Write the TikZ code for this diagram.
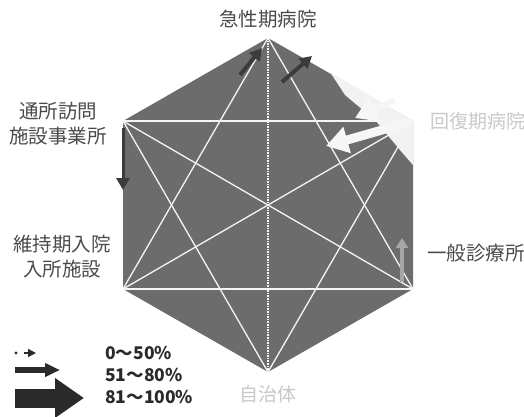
\documentclass[tikz,border=0pt]{standalone}
\usepackage{fontspec}
\setmainfont{Noto Sans CJK JP}
\usetikzlibrary{arrows.meta}
\definecolor{hexgray}{HTML}{6C6C6C}
\definecolor{labelgray}{HTML}{4A4A4A}
\definecolor{fadegray}{HTML}{C8C8C8}
\definecolor{arrowdark}{HTML}{2A2A2A}
\begin{document}
\begin{tikzpicture}[x=1pt,y=-1pt,
  hexfill/.style={fill=hexgray},
  diag/.style={draw=white!92!gray,line width=1.3pt},
  vdiag/.style={draw=white!92!gray,line width=1.6pt,densely dotted},
  lbl/.style={text=labelgray,font=\fontsize{19.5}{25}\selectfont,align=center,inner sep=0pt},
  fadelbl/.style={text=fadegray,font=\fontsize{19}{25}\selectfont,align=center,inner sep=0pt},
  legtext/.style={text=arrowdark,font=\fontsize{17.5}{20}\selectfont\bfseries,anchor=west,inner sep=0pt},
  darkarrow/.style={draw=hexgray!55!black,line width=4pt,-{Triangle[length=12pt,width=13pt]}},
  whitearrow/.style={draw=white!93!gray,line width=9pt,-{Triangle[length=22pt,width=26pt]}},
  lightarrow/.style={draw=gray!70,line width=4pt,-{Triangle[length=10pt,width=12pt]}}
]
\useasboundingbox (0,0) rectangle (524,416);
% hexagon vertices
\coordinate (T) at (268,38);
\coordinate (UR) at (413,121);
\coordinate (LR) at (413,289);
\coordinate (B) at (268,372);
\coordinate (LL) at (123,289);
\coordinate (UL) at (123,121);
\fill[hexfill] (T)--(UR)--(LR)--(B)--(LL)--(UL)--cycle;
% light overlay near upper right edge
\fill[white!90!gray] (330,72) -- (413,121) -- (413,165) -- (400,150) -- (375,120) -- (345,95) -- cycle;
% diagonals
\draw[diag] (UL) -- (UR);
\draw[diag] (LL) -- (LR);
\draw[diag] (T) -- (LL);
\draw[diag] (T) -- (LR);
\draw[diag] (B) -- (UL);
\draw[diag] (B) -- (UR);
\draw[diag] (UL) -- (LR);
\draw[diag] (LL) -- (UR);
\draw[vdiag] (T) -- (B);
% arrows in the diagram
\coordinate (a1s) at (240,75);
\coordinate (a1e) at (262,48);
\coordinate (a2s) at (282,82);
\coordinate (a2e) at (312,56);
\coordinate (w1s) at (410,122);
\coordinate (w1e) at (326,146);
\coordinate (w2s) at (395,100);
\coordinate (w2e) at (355,118);
\coordinate (d1s) at (123,128);
\coordinate (d1e) at (123,190);
\coordinate (l1s) at (402,282);
\coordinate (l1e) at (402,238);
\draw[darkarrow] (a1s) -- (a1e);
\draw[darkarrow] (a2s) -- (a2e);
\draw[whitearrow] (w1s) -- (w1e);
\draw[whitearrow,line width=6pt] (w2s) -- (w2e);
\draw[darkarrow,line width=3pt] (d1s) -- (d1e);
\draw[lightarrow] (l1s) -- (l1e);
% labels
\node[lbl] (acute) at (268,19) {急性期病院};
\node[fadelbl] (recov) at (478,121) {回復期病院};
\node[lbl] (clinic) at (476,253) {一般診療所};
\node[fadelbl] (gov) at (268,394) {自治体};
\node[lbl] (maint) at (62,257) {維持期入院\\入所施設};
\node[lbl] (visit) at (58,124) {通所訪問\\施設事業所};
% legend
\coordinate (s1) at (16,353);
\coordinate (s2a) at (24,353);
\coordinate (s2b) at (36,353);
\fill[arrowdark] (s1) circle (1.6);
\draw[arrowdark,line width=1.5pt,-{Triangle[length=8pt,width=8pt]}] (s2a) -- (s2b);
\coordinate (m1) at (15,370);
\coordinate (m2) at (60,370);
\draw[arrowdark,line width=6pt,-{Triangle[length=15pt,width=13pt]}] (m1) -- (m2);
\coordinate (b1) at (15,398);
\coordinate (b2) at (84,398);
\draw[arrowdark,line width=19pt,-{Triangle[length=29pt,width=38pt]}] (b1) -- (b2);
\node[legtext] (p1) at (105,353) {0～50\%};
\node[legtext] (p2) at (105,375) {51～80\%};
\node[legtext] (p3) at (105,397) {81～100\%};
\end{tikzpicture}
\end{document}
